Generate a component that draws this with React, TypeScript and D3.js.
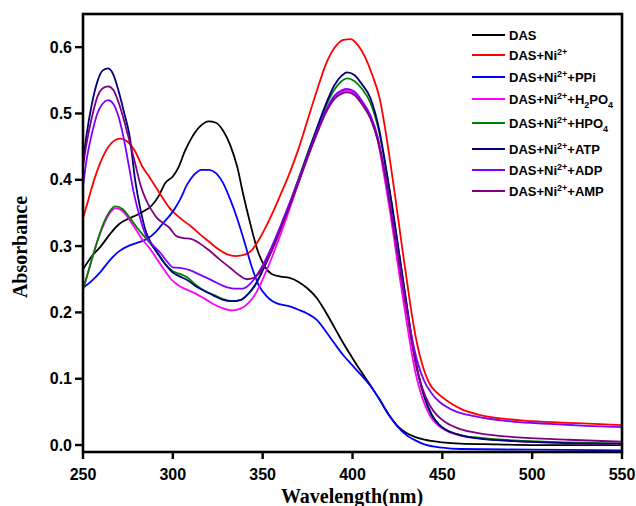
import { scaleLinear, line, curveMonotoneX } from "d3"

// wavelength (nm), absorbance
const das: [number, number][] = [
  [250, 0.265], [255, 0.285], [260, 0.3], [265, 0.318], [270, 0.333], [275, 0.341], [280, 0.347],
  [284, 0.353], [287, 0.358], [292, 0.375], [296, 0.396], [300, 0.405], [303, 0.418], [307, 0.445],
  [310, 0.461], [315, 0.48], [320, 0.488], [324, 0.486], [328, 0.474], [332, 0.452], [336, 0.418],
  [339, 0.38], [343, 0.335], [347, 0.295], [351, 0.27], [355, 0.258], [360, 0.254], [365, 0.252],
  [370, 0.246], [375, 0.236], [380, 0.222], [385, 0.201], [390, 0.177], [395, 0.153], [400, 0.131],
  [405, 0.11], [410, 0.09], [415, 0.069], [420, 0.046], [425, 0.029], [430, 0.018], [435, 0.012],
  [440, 0.008], [450, 0.004], [460, 0.002], [480, 0.001], [500, 0.0], [550, 0.0],
]
const dasNi: [number, number][] = [
  [250, 0.342], [253, 0.37], [256, 0.398], [260, 0.428], [264, 0.449], [268, 0.46], [271, 0.462],
  [275, 0.457], [279, 0.443], [283, 0.42], [287, 0.404], [291, 0.387], [295, 0.37], [298, 0.358],
  [302, 0.347], [306, 0.338], [310, 0.33], [315, 0.318], [320, 0.307], [325, 0.296], [330, 0.288],
  [335, 0.285], [340, 0.287], [344, 0.294], [348, 0.31], [352, 0.33], [356, 0.353], [360, 0.378],
  [365, 0.41], [370, 0.447], [375, 0.49], [380, 0.533], [385, 0.573], [390, 0.599], [395, 0.611],
  [399, 0.612], [403, 0.603], [407, 0.585], [411, 0.558], [415, 0.524], [418, 0.48], [421, 0.427],
  [424, 0.37], [427, 0.31], [430, 0.253], [433, 0.197], [436, 0.152], [439, 0.12], [443, 0.092],
  [447, 0.079], [452, 0.068], [460, 0.055], [470, 0.046], [480, 0.041], [500, 0.036], [525, 0.033],
  [550, 0.03],
]
const dasNiPPi: [number, number][] = [
  [250, 0.237], [255, 0.248], [260, 0.262], [265, 0.279], [270, 0.292], [275, 0.3], [280, 0.305],
  [285, 0.31], [290, 0.32], [295, 0.336], [300, 0.352], [304, 0.37], [308, 0.393], [312, 0.408],
  [316, 0.415], [320, 0.415], [324, 0.41], [328, 0.395], [332, 0.37], [336, 0.34], [340, 0.305],
  [344, 0.268], [348, 0.24], [352, 0.225], [356, 0.216], [360, 0.212], [365, 0.209], [370, 0.204],
  [375, 0.198], [380, 0.189], [385, 0.172], [390, 0.153], [395, 0.135], [400, 0.12], [405, 0.105],
  [410, 0.089], [415, 0.069], [420, 0.047], [425, 0.028], [430, 0.015], [435, 0.007], [440, 0.001],
  [450, -0.004], [460, -0.006], [500, -0.007], [550, -0.008],
]
const dasNiH2PO4: [number, number][] = [
  [250, 0.233], [253, 0.262], [256, 0.29], [259, 0.315], [262, 0.335], [265, 0.35], [268, 0.357],
  [271, 0.355], [275, 0.343], [279, 0.327], [283, 0.31], [287, 0.297], [291, 0.281], [295, 0.265],
  [299, 0.25], [303, 0.241], [308, 0.234], [313, 0.228], [318, 0.22], [323, 0.212], [328, 0.206],
  [333, 0.203], [338, 0.206], [342, 0.214], [346, 0.228], [350, 0.25], [355, 0.282], [360, 0.318],
  [365, 0.356], [370, 0.396], [375, 0.435], [380, 0.47], [385, 0.502], [390, 0.524], [394, 0.533],
  [397, 0.535], [401, 0.53], [405, 0.518], [410, 0.495], [414, 0.46], [418, 0.4], [421, 0.35],
  [424, 0.295], [427, 0.24], [430, 0.188], [433, 0.138], [436, 0.098], [439, 0.07], [443, 0.045],
  [447, 0.031], [452, 0.022], [460, 0.014], [470, 0.01], [490, 0.006], [520, 0.003], [550, 0.001],
]
const dasNiHPO4: [number, number][] = [
  [250, 0.235], [253, 0.262], [256, 0.29], [259, 0.316], [262, 0.338], [265, 0.353], [268, 0.36],
  [272, 0.356], [276, 0.343], [280, 0.328], [284, 0.315], [288, 0.302], [292, 0.288], [296, 0.272],
  [300, 0.262], [304, 0.258], [308, 0.253], [313, 0.241], [318, 0.232], [323, 0.226], [328, 0.22],
  [333, 0.217], [338, 0.219], [342, 0.228], [346, 0.242], [350, 0.264], [355, 0.294], [360, 0.328],
  [365, 0.364], [370, 0.402], [375, 0.44], [380, 0.476], [385, 0.51], [390, 0.536], [394, 0.549],
  [397, 0.553], [401, 0.549], [405, 0.538], [410, 0.516], [415, 0.47], [419, 0.41], [422, 0.36],
  [425, 0.305], [428, 0.25], [431, 0.195], [434, 0.142], [437, 0.102], [440, 0.072], [444, 0.046],
  [448, 0.031], [452, 0.023], [460, 0.015], [470, 0.011], [490, 0.007], [520, 0.004], [550, 0.002],
]
const dasNiATP: [number, number][] = [
  [250, 0.425], [252, 0.468], [255, 0.515], [258, 0.548], [261, 0.565], [264, 0.568], [267, 0.558],
  [270, 0.532], [273, 0.5], [276, 0.465], [279, 0.4], [282, 0.355], [285, 0.322], [288, 0.304],
  [292, 0.287], [296, 0.272], [300, 0.26], [304, 0.254], [308, 0.249], [313, 0.239], [318, 0.232],
  [323, 0.225], [328, 0.219], [333, 0.217], [338, 0.219], [342, 0.228], [346, 0.242], [350, 0.263],
  [355, 0.293], [360, 0.327], [365, 0.362], [370, 0.4], [375, 0.438], [380, 0.476], [385, 0.513],
  [390, 0.543], [394, 0.557], [397, 0.562], [401, 0.558], [405, 0.545], [410, 0.523], [415, 0.474],
  [419, 0.412], [422, 0.362], [425, 0.307], [428, 0.252], [431, 0.197], [434, 0.143], [437, 0.103],
  [440, 0.073], [444, 0.046], [448, 0.031], [452, 0.023], [460, 0.015], [470, 0.01], [490, 0.006],
  [520, 0.003], [550, 0.002],
]
const dasNiADP: [number, number][] = [
  [250, 0.39], [252, 0.43], [255, 0.47], [258, 0.5], [261, 0.515], [264, 0.52], [267, 0.514],
  [270, 0.493], [273, 0.458], [276, 0.414], [278, 0.384], [281, 0.35], [285, 0.316], [289, 0.301],
  [293, 0.29], [297, 0.276], [300, 0.268], [304, 0.267], [309, 0.264], [315, 0.257], [322, 0.248],
  [328, 0.24], [334, 0.236], [339, 0.236], [343, 0.243], [347, 0.257], [351, 0.276], [355, 0.299],
  [360, 0.331], [365, 0.365], [370, 0.4], [375, 0.436], [380, 0.471], [385, 0.504], [390, 0.527],
  [394, 0.535], [397, 0.537], [401, 0.533], [405, 0.52], [410, 0.497], [414, 0.465], [418, 0.41],
  [421, 0.36], [424, 0.31], [427, 0.257], [430, 0.208], [433, 0.163], [436, 0.127], [440, 0.096],
  [444, 0.078], [448, 0.066], [452, 0.058], [458, 0.05], [465, 0.045], [475, 0.04], [490, 0.035],
  [510, 0.032], [530, 0.029], [550, 0.027],
]
const dasNiAMP: [number, number][] = [
  [250, 0.42], [252, 0.455], [255, 0.495], [258, 0.525], [261, 0.538], [264, 0.541], [267, 0.535],
  [270, 0.515], [273, 0.488], [276, 0.457], [279, 0.425], [282, 0.392], [285, 0.37], [288, 0.355],
  [291, 0.343], [295, 0.334], [298, 0.328], [302, 0.315], [306, 0.312], [310, 0.311], [315, 0.304],
  [320, 0.294], [326, 0.28], [332, 0.267], [337, 0.256], [341, 0.25], [345, 0.252], [349, 0.263],
  [353, 0.282], [357, 0.305], [361, 0.333], [365, 0.36], [370, 0.396], [375, 0.433], [380, 0.468],
  [385, 0.5], [390, 0.522], [394, 0.53], [397, 0.532], [401, 0.528], [405, 0.515], [410, 0.492],
  [414, 0.46], [418, 0.41], [421, 0.36], [424, 0.308], [427, 0.255], [430, 0.205], [433, 0.155],
  [436, 0.113], [439, 0.085], [443, 0.06], [447, 0.045], [452, 0.034], [460, 0.024], [470, 0.018],
  [490, 0.012], [520, 0.008], [550, 0.005],
]

const seriesData = [das, dasNi, dasNiPPi, dasNiH2PO4, dasNiHPO4, dasNiATP, dasNiADP, dasNiAMP]
const seriesLabels = [
  "DAS",
  "DAS+Ni^{2+}",
  "DAS+Ni^{2+}+PPi",
  "DAS+Ni^{2+}+H_{2}PO_{4}",
  "DAS+Ni^{2+}+HPO_{4}",
  "DAS+Ni^{2+}+ATP",
  "DAS+Ni^{2+}+ADP",
  "DAS+Ni^{2+}+AMP",
]
const wavelengthTicks = [250, 300, 350, 400, 450, 500, 550]
const absorbanceTicks = [0.0, 0.1, 0.2, 0.3, 0.4, 0.5, 0.6]

const colors = ['#000000', '#ff0000', '#0000ff', '#ff00ff', '#008000', '#000080', '#8000ff', '#800080']
// legend rows are not evenly spaced in the original (subscripts push them down)
const legendRowY = [35, 55, 77, 99, 123, 149, 170, 191]

const W = 636
const H = 506
const PLOT = { left: 83, top: 14, right: 622, bottom: 452 }
const sans = "'Liberation Sans', Arial, sans-serif"
const serif = "'Liberation Serif', 'Times New Roman', serif"

// "DAS+Ni^{2+}+H_{2}PO_{4}" -> tspans with super/subscripts
function Label({ text, x, y }: { text: string; x: number; y: number }) {
  const parts = text.split(/(\^\{[^}]*\}|_\{[^}]*\})/).filter(p => p !== "")
  let shift = 0
  return (
    <text x={x} y={y} fontFamily={sans} fontWeight={700} fontSize={13} fill="#000">
      {parts.map((p, i) => {
        let target = 0
        let content = p
        let size = 13
        if (p.startsWith("^{")) { target = -5; content = p.slice(2, -1); size = 9 }
        else if (p.startsWith("_{")) { target = 4; content = p.slice(2, -1); size = 9 }
        const dy = target - shift
        shift = target
        return <tspan key={i} dy={dy} fontSize={size}>{content}</tspan>
      })}
    </text>
  )
}

export default function App() {
  const x = scaleLinear().domain([250, 550]).range([PLOT.left, PLOT.right])
  const y = scaleLinear().domain([-0.0105, 0.65]).range([PLOT.bottom, PLOT.top])
  const path = line<[number, number]>()
    .x(d => x(d[0]))
    .y(d => y(d[1]))
    .curve(curveMonotoneX)

  return (
    <svg width={W} height={H} style={{ position: 'absolute', left: 0, top: 0, background: '#fff' }}>
      <rect width={W} height={H} fill="#fff" />
      <defs>
        <clipPath id="plotClip">
          <rect x={PLOT.left} y={PLOT.top} width={PLOT.right - PLOT.left} height={PLOT.bottom - PLOT.top} />
        </clipPath>
      </defs>

      <g clipPath="url(#plotClip)">
        {seriesData.map((s, i) => (
          <path key={i} d={path(s) || ''} fill="none" stroke={colors[i]} strokeWidth={1.8} strokeLinejoin="round" />
        ))}
      </g>

      <rect
        x={PLOT.left}
        y={PLOT.top}
        width={PLOT.right - PLOT.left}
        height={PLOT.bottom - PLOT.top}
        fill="none"
        stroke="#000"
        strokeWidth={2.6}
      />

      {absorbanceTicks.map(t => (
        <g key={t}>
          <line x1={PLOT.left - 8} x2={PLOT.left} y1={y(t)} y2={y(t)} stroke="#000" strokeWidth={2.4} />
          <text x={PLOT.left - 11} y={y(t) + 5.5} textAnchor="end" fontFamily={sans} fontWeight={700} fontSize={16}>
            {t.toFixed(1)}
          </text>
        </g>
      ))}
      {wavelengthTicks.map(t => (
        <g key={t}>
          <line x1={x(t)} x2={x(t)} y1={PLOT.bottom} y2={PLOT.bottom + 7} stroke="#000" strokeWidth={2.4} />
          <text x={x(t)} y={480} textAnchor="middle" fontFamily={sans} fontWeight={700} fontSize={16}>
            {t}
          </text>
        </g>
      ))}

      <text
        transform={`translate(27, ${(PLOT.top + PLOT.bottom) / 2 + 14}) rotate(-90)`}
        textAnchor="middle"
        fontFamily={serif}
        fontWeight={700}
        fontSize={20}
      >
        Absorbance
      </text>
      <text x={352} y={503} textAnchor="middle" fontFamily={serif} fontWeight={700} fontSize={20}>
        Wavelength(nm)
      </text>

      <g>
        {seriesLabels.map((lab, i) => (
          <g key={i}>
            <line x1={472} x2={505} y1={legendRowY[i]} y2={legendRowY[i]} stroke={colors[i]} strokeWidth={2.2} />
            <Label text={lab} x={509} y={legendRowY[i] + 4.5} />
          </g>
        ))}
      </g>
    </svg>
  )
}
